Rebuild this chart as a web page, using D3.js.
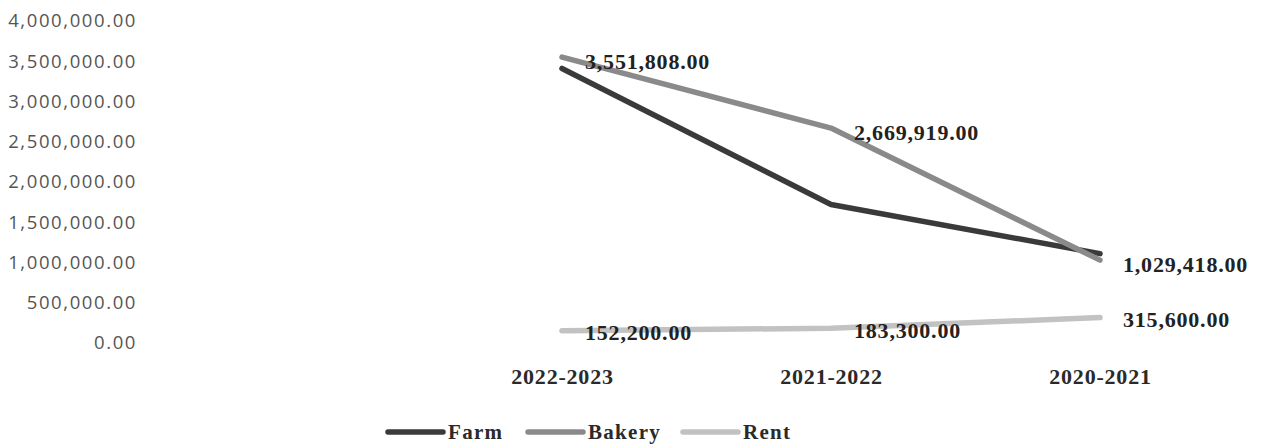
<!DOCTYPE html>
<html>
<head>
<meta charset="utf-8">
<script src="https://cdn.jsdelivr.net/npm/d3@7"></script>
<style>
  html, body { margin: 0; padding: 0; background: #fff; }
  svg { display: block; }
</style>
</head>
<body>
<svg id="chart" width="1265" height="444"></svg>
<script>
// Income by business line, per financial year
const years = ["2022-2023", "2021-2022", "2020-2021"];
const farm = [3410000, 1720000, 1110000];
const bakery = [3551808, 2669919, 1029418];
const rent = [152200, 183300, 315600];
const yTicks = [0, 500000, 1000000, 1500000, 2000000, 2500000, 3000000, 3500000, 4000000];

const seriesNames = ["Farm", "Bakery", "Rent"];
const seriesValues = [farm, bakery, rent];
const seriesColors = ["#3a3a3a", "#8a8a8a", "#c2c2c2"];
const labelled = [false, true, true];
const labelShift = [0, 4, 2];

const svg = d3.select("#chart");

const x = d3.scalePoint().domain(years).range([562, 1100]);
const y = d3.scaleLinear().domain([0, 4000000]).range([343, 21]);

const fmt = d3.format(",.2f");
const serif = "'Liberation Serif', 'DejaVu Serif', serif";

// Value axis: labels only
const yAxis = d3.axisLeft(y).tickValues(yTicks).tickFormat(fmt).tickSize(0).tickPadding(0);
const gy = svg.append("g").attr("transform", "translate(137,0)").call(yAxis);
gy.select(".domain").remove();
gy.selectAll("text")
  .attr("font-family", "'Open Sans', 'Noto Sans', sans-serif")
  .attr("font-size", 18.5)
  .attr("letter-spacing", 1.6)
  .attr("fill", "#555");

// Category axis: labels only
const xAxis = d3.axisBottom(x).tickSize(0).tickPadding(0);
const gx = svg.append("g").attr("transform", "translate(0,376)").call(xAxis);
gx.select(".domain").remove();
gx.selectAll("text")
  .attr("dy", "0.35em")
  .attr("font-family", serif)
  .attr("font-weight", "bold")
  .attr("font-size", 22)
  .attr("letter-spacing", 0.8)
  .attr("fill", "#2a2a2a");

const line = d3.line()
  .x((d, i) => x(years[i]))
  .y(d => y(d));

seriesValues.forEach((vals, s) => {
  svg.append("path")
    .datum(vals)
    .attr("d", line)
    .attr("fill", "none")
    .attr("stroke", seriesColors[s])
    .attr("stroke-width", 5.5)
    .attr("stroke-linecap", "round")
    .attr("stroke-linejoin", "round");
});

// Data labels, placed to the right of each point
seriesValues.forEach((vals, s) => {
  if (!labelled[s]) return;
  svg.append("g").selectAll("text")
    .data(vals)
    .join("text")
    .attr("x", (d, i) => x(years[i]) + 23)
    .attr("y", (d, i) => y(d) + labelShift[s])
    .attr("dy", "0.35em")
    .attr("font-family", serif)
    .attr("font-weight", "bold")
    .attr("font-size", 22)
    .attr("letter-spacing", 0.8)
    .attr("fill", "#222")
    .text(d => fmt(d));
});

// Legend
const legendX = [388, 528, 683];
const legend = svg.append("g").attr("transform", "translate(0,432)");
seriesNames.forEach((name, s) => {
  legend.append("line")
    .attr("x1", legendX[s]).attr("x2", legendX[s] + 55)
    .attr("y1", 0).attr("y2", 0)
    .attr("stroke", seriesColors[s])
    .attr("stroke-width", 5.5)
    .attr("stroke-linecap", "round");
  legend.append("text")
    .attr("x", legendX[s] + 60)
    .attr("y", 0)
    .attr("dy", "0.35em")
    .attr("font-family", serif)
    .attr("font-weight", "bold")
    .attr("font-size", 21)
    .attr("letter-spacing", 1.3)
    .attr("fill", "#2a2a2a")
    .text(name);
});
</script>
</body>
</html>
